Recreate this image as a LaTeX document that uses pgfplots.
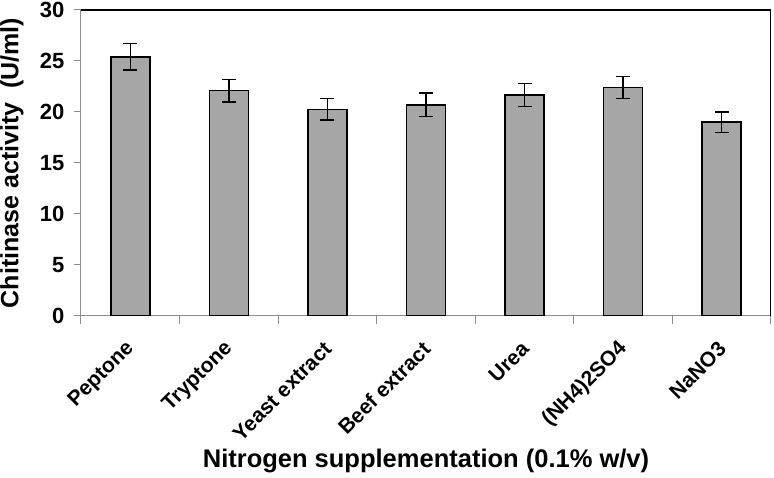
\documentclass[border=0pt]{standalone}
\usepackage{pgfplots}
\pgfplotsset{compat=1.18}
\usepackage{fontspec}
\setmainfont{Liberation Sans}
\definecolor{barfill}{RGB}{166,166,166}
\definecolor{axisgray}{RGB}{140,140,140}

\begin{document}
\begin{tikzpicture}
\begin{axis}[
  scale only axis, width=690pt, height=306pt,
  ybar, bar width=39pt,
  ymin=0, ymax=30, ytick={0,5,...,30},
  xmin=-0.5, xmax=6.5,
  xtick={0,...,6},
  xticklabels={Peptone, Tryptone, Yeast extract, Beef extract, Urea, (NH4)2SO4, NaNO3},
  minor xtick={-0.5,0.5,...,6.5},
  axis x line*=bottom, axis y line*=left,
  axis line style={axisgray, line width=1pt, -},
  tick align=outside,
  major tick length=7pt, minor tick length=8pt,
  tick style={axisgray, line width=1pt},
  major x tick style={draw=none},
  /pgf/number format/assume math mode=true,
  yticklabel style={font=\bfseries\fontsize{22}{24}\selectfont, xshift=-6pt},
  xticklabel style={font=\bfseries\fontsize{21}{24}\selectfont, xshift=3pt, yshift=-20pt, rotate=45, anchor=east},
  ylabel={Chitinase activity\ \ (U/ml)},
  xlabel={Nitrogen supplementation (0.1\% w/v)},
  every axis y label/.style={at={(axis description cs:-0.1,0.5)}, rotate=90, anchor=center,
    font=\bfseries\fontsize{25}{30}\selectfont},
  every axis x label/.style={at={(axis description cs:0.5,-0.474)}, anchor=center,
    font=\bfseries\fontsize{25.5}{30}\selectfont},
]
\addplot[fill=barfill, draw=black, line width=1.5pt,
  error bars/.cd, y dir=both, y explicit,
  error bar style={line width=1.5pt, black},
  error mark options={rotate=90, mark size=7pt, line width=1.5pt, black}]
coordinates {
  (0,25.4) +- (0,1.3)
  (1,22.1) +- (0,1.1)
  (2,20.25) +- (0,1.05)
  (3,20.7) +- (0,1.15)
  (4,21.65) +- (0,1.12)
  (5,22.4) +- (0,1.1)
  (6,19.0) +- (0,1.0)
};
\draw[black, line width=1.3pt] (rel axis cs:0,1) -- (rel axis cs:1,1) -- (rel axis cs:1,0);
\coordinate (ll) at (rel axis cs:0,0);
\end{axis}
\pgfresetboundingbox
\path[use as bounding box] ([shift={(-81pt,-162pt)}]ll) rectangle ([shift={(693pt,316pt)}]ll);
\end{tikzpicture}
\end{document}
